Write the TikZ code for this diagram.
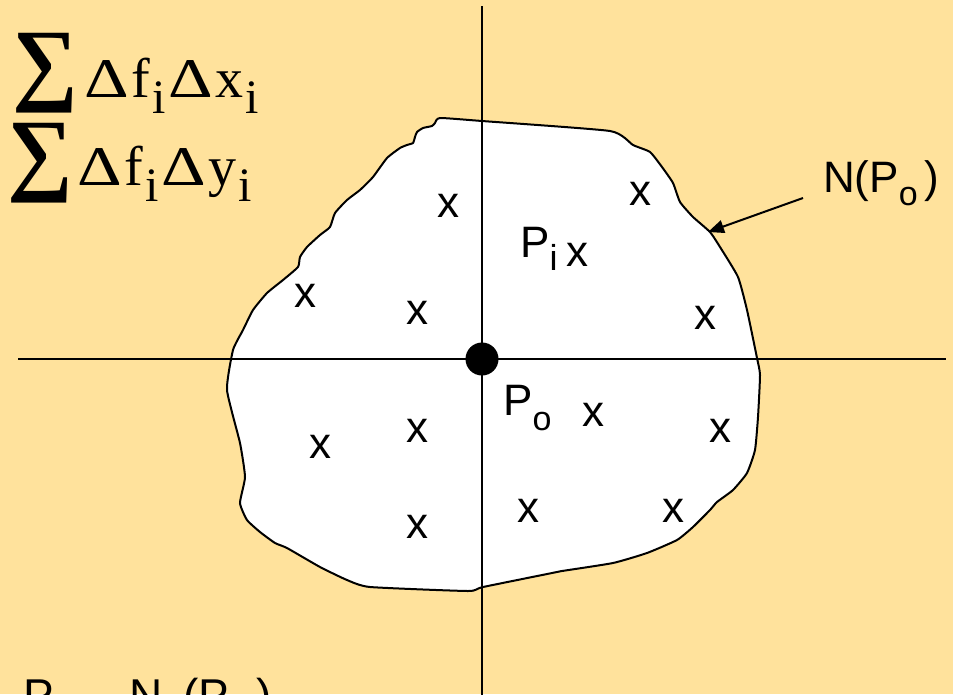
\documentclass[tikz,border=0pt]{standalone}
\usepackage{graphicx}
\usepackage{fontspec}
\setmainfont{Liberation Sans}
\newfontfamily\serifff{Liberation Serif}
\usetikzlibrary{arrows.meta}
\definecolor{bg}{RGB}{255,226,156}
\newcommand\lowsub[3]{\raisebox{-#1}{\fontsize{#2}{#2}\selectfont #3}}
\newcommand\wD{\scalebox{1.24}[1]{Δ}}
\newcommand\sk{\kern2.5pt}
\begin{document}
\begin{tikzpicture}[x=1pt,y=-1pt,
  lbl/.style={inner sep=0pt, font=\fontsize{44}{48}\selectfont},
  serif/.style={inner sep=0pt, font=\serifff\fontsize{56}{56}\selectfont},
  sigma/.style={inner sep=0pt, font=\serifff\bfseries\fontsize{92}{92}\selectfont},
  axis/.style={line width=2.2pt},
  region/.style={draw, line width=2pt, fill=white}]
\useasboundingbox (0,0) rectangle (953,694);
\clip (0,0) rectangle (953,694);
\fill[bg] (0,0) rectangle (953,694);
% neighbourhood boundary
\draw[region] plot[smooth cycle, tension=0.3] coordinates {
 (440,118) (482,121) (610,131) (633,145) (650,152) (662,167) (673,183)
 (680,202) (693,217) (710,232) (720,247) (738,277) (747,310) (757,358)
 (760,375) (758,417) (755,450) (747,473) (733,490) (717,502) (710,510)
 (693,527) (677,540) (647,553) (613,563) (562,571) (557,572) (483,587)
 (468,591) (370,587) (347,580) (320,567) (287,548) (275,543) (260,532)
 (247,520) (240,503) (245,477) (240,443) (227,390) (233,350) (243,330)
 (253,310) (267,293) (283,280) (298,267) (300,257) (307,247) (320,235)
 (330,227) (335,213) (347,200) (360,190) (373,177) (387,158) (400,148)
 (407,145) (413,143) (415,137) (417,132) (423,128) (432,126) (435,123)};
% axes
\coordinate (vtop) at (482,6);
\coordinate (vbot) at (482,700);
\coordinate (hl) at (18,359);
\coordinate (hr) at (946,359);
\draw[axis] (vtop) -- (vbot);
\draw[axis] (hl) -- (hr);
\fill (482,359) circle (16.5) coordinate (Po);
% sample points
\node[lbl] (x1) at (448,206) {x};
\node[lbl] (x2) at (305,296) {x};
\node[lbl] (x3) at (417,313) {x};
\node[lbl] (x4) at (640,194) {x};
\node[lbl] (x5) at (577,255) {x};
\node[lbl] (x6) at (705,318) {x};
\node[lbl] (x7) at (320,447) {x};
\node[lbl] (x8) at (417,431) {x};
\node[lbl] (x9) at (417,527) {x};
\node[lbl] (x10) at (593,415) {x};
\node[lbl] (x11) at (720,431) {x};
\node[lbl] (x12) at (528,511) {x};
\node[lbl] (x13) at (673,511) {x};
% labels
\node[lbl, anchor=base west] (Pi) at (520,257) {P\lowsub{13pt}{36}{i}};
\node[lbl, anchor=base west] (Polbl) at (503,415) {P\lowsub{15pt}{34}{o}};
\node[lbl, anchor=base west] (Nlbl) at (823,192) {N(P\lowsub{13pt}{34}{o}\hspace{7pt})};
\coordinate (arrstart) at (803,198);
\coordinate (arrtip) at (708,232);
\draw[line width=2pt, -{Triangle[length=16pt,width=13pt]}] (arrstart) -- (arrtip);
% sums
\node[sigma] (s1) at (45,73) {∑};
\node[serif, anchor=base west] (t1) at (84,97) {\wD\sk f\sk\lowsub{16pt}{48}{i}\sk\wD\sk x\sk\lowsub{16pt}{48}{i}};
\node[sigma] (s2) at (40,163) {∑};
\node[serif, anchor=base west] (t2) at (77,185) {\wD\sk f\sk\lowsub{16pt}{48}{i}\sk\wD\sk y\sk\lowsub{16pt}{48}{i}};
% bottom condition
\node[lbl, font=\fontsize{46}{50}\selectfont, anchor=base west] (cond) at (23,711)
  {P\lowsub{13pt}{34}{i}\hspace{2pt}$\in$\hspace{49pt}N\hspace{21pt}(P\lowsub{13pt}{34}{o}\hspace{8pt})};
\end{tikzpicture}
\end{document}
